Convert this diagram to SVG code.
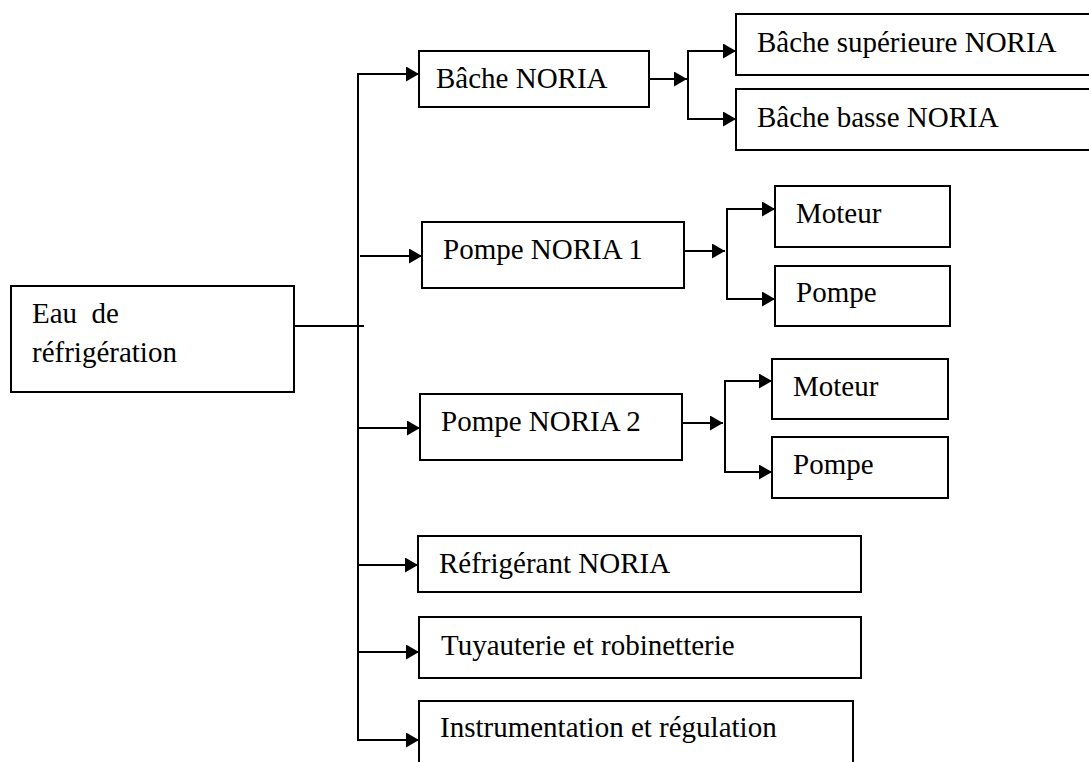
<svg xmlns="http://www.w3.org/2000/svg" width="1089" height="762" viewBox="0 0 1089 762">
  <defs>
    <marker id="arrow" markerUnits="userSpaceOnUse" markerWidth="14" markerHeight="16" refX="13" refY="7.5" orient="auto">
      <path d="M0,0 L13,7.5 L0,15 Z" fill="#000"/>
    </marker>
  </defs>
  <style>
    .box { fill: #fff; stroke: #000; stroke-width: 2; }
    .open { fill: none; stroke: #000; stroke-width: 2; }
    .lbl { font-family: "Liberation Serif", "Times New Roman", serif; font-size: 29px; fill: #000; white-space: pre; }
    .wire { fill: none; stroke: #000; stroke-width: 2; }
    .arr { fill: none; stroke: #000; stroke-width: 2; marker-end: url(#arrow); }
  </style>

  <rect width="1089" height="762" fill="#fff"/>

  <!-- connectors -->
  <g id="connectors">
    <!-- trunk -->
    <path class="wire" d="M294,326 H364"/>
    <path class="wire" d="M358,73 V740"/>
    <path class="arr" d="M357,74 H419"/>
    <path class="arr" d="M360,256 H422"/>
    <path class="arr" d="M358,428 H420"/>
    <path class="arr" d="M358,565 H418"/>
    <path class="arr" d="M358,652 H419"/>
    <path class="arr" d="M357,740 H419"/>
    <!-- Bâche NORIA split -->
    <path class="arr" d="M649,79 H687"/>
    <path class="wire" d="M688,51 V119"/>
    <path class="arr" d="M687,51 H736"/>
    <path class="arr" d="M687,119 H736"/>
    <!-- Pompe NORIA 1 split -->
    <path class="arr" d="M684,251 H725"/>
    <path class="wire" d="M727,209 V299"/>
    <path class="arr" d="M726,209 H775"/>
    <path class="arr" d="M726,299 H775"/>
    <!-- Pompe NORIA 2 split -->
    <path class="arr" d="M682,423 H723"/>
    <path class="wire" d="M725,381 V472"/>
    <path class="arr" d="M724,381 H772"/>
    <path class="arr" d="M724,472 H772"/>
  </g>

  <g id="eau">
    <rect class="box" x="11" y="286" width="283" height="106"/>
    <text class="lbl" x="32" y="323">Eau  de</text>
    <text class="lbl" x="32" y="362">réfrigération</text>
  </g>

  <g id="bache-noria">
    <rect class="box" x="419" y="51" width="230" height="56"/>
    <text class="lbl" x="436" y="88">Bâche NORIA</text>
  </g>

  <g id="bache-sup">
    <path class="open" d="M1090,14 H736 V75 H1090"/>
    <text class="lbl" x="757" y="52">Bâche supérieure NORIA</text>
  </g>

  <g id="bache-basse">
    <path class="open" d="M1090,89 H736 V150 H1090"/>
    <text class="lbl" x="757" y="127">Bâche basse NORIA</text>
  </g>

  <g id="pompe-noria-1">
    <rect class="box" x="422" y="222" width="262" height="66"/>
    <text class="lbl" x="443" y="259">Pompe NORIA 1</text>
  </g>

  <g id="moteur-1">
    <rect class="box" x="775" y="186" width="175" height="61"/>
    <text class="lbl" x="796" y="223">Moteur</text>
  </g>

  <g id="pompe-1">
    <rect class="box" x="775" y="266" width="175" height="60"/>
    <text class="lbl" x="796" y="302">Pompe</text>
  </g>

  <g id="pompe-noria-2">
    <rect class="box" x="420" y="394" width="262" height="66"/>
    <text class="lbl" x="441" y="431">Pompe NORIA 2</text>
  </g>

  <g id="moteur-2">
    <rect class="box" x="772" y="359" width="176" height="60"/>
    <text class="lbl" x="793" y="396">Moteur</text>
  </g>

  <g id="pompe-2">
    <rect class="box" x="772" y="437" width="176" height="61"/>
    <text class="lbl" x="793" y="474">Pompe</text>
  </g>

  <g id="refrigerant">
    <rect class="box" x="418" y="536" width="443" height="56"/>
    <text class="lbl" x="439" y="573">Réfrigérant NORIA</text>
  </g>

  <g id="tuyauterie">
    <rect class="box" x="419" y="617" width="442" height="61"/>
    <text class="lbl" x="441" y="655">Tuyauterie et robinetterie</text>
  </g>

  <g id="instrumentation">
    <path class="open" d="M419,763 V701 H853 V763"/>
    <text class="lbl" x="440" y="737">Instrumentation et régulation</text>
  </g>
</svg>
